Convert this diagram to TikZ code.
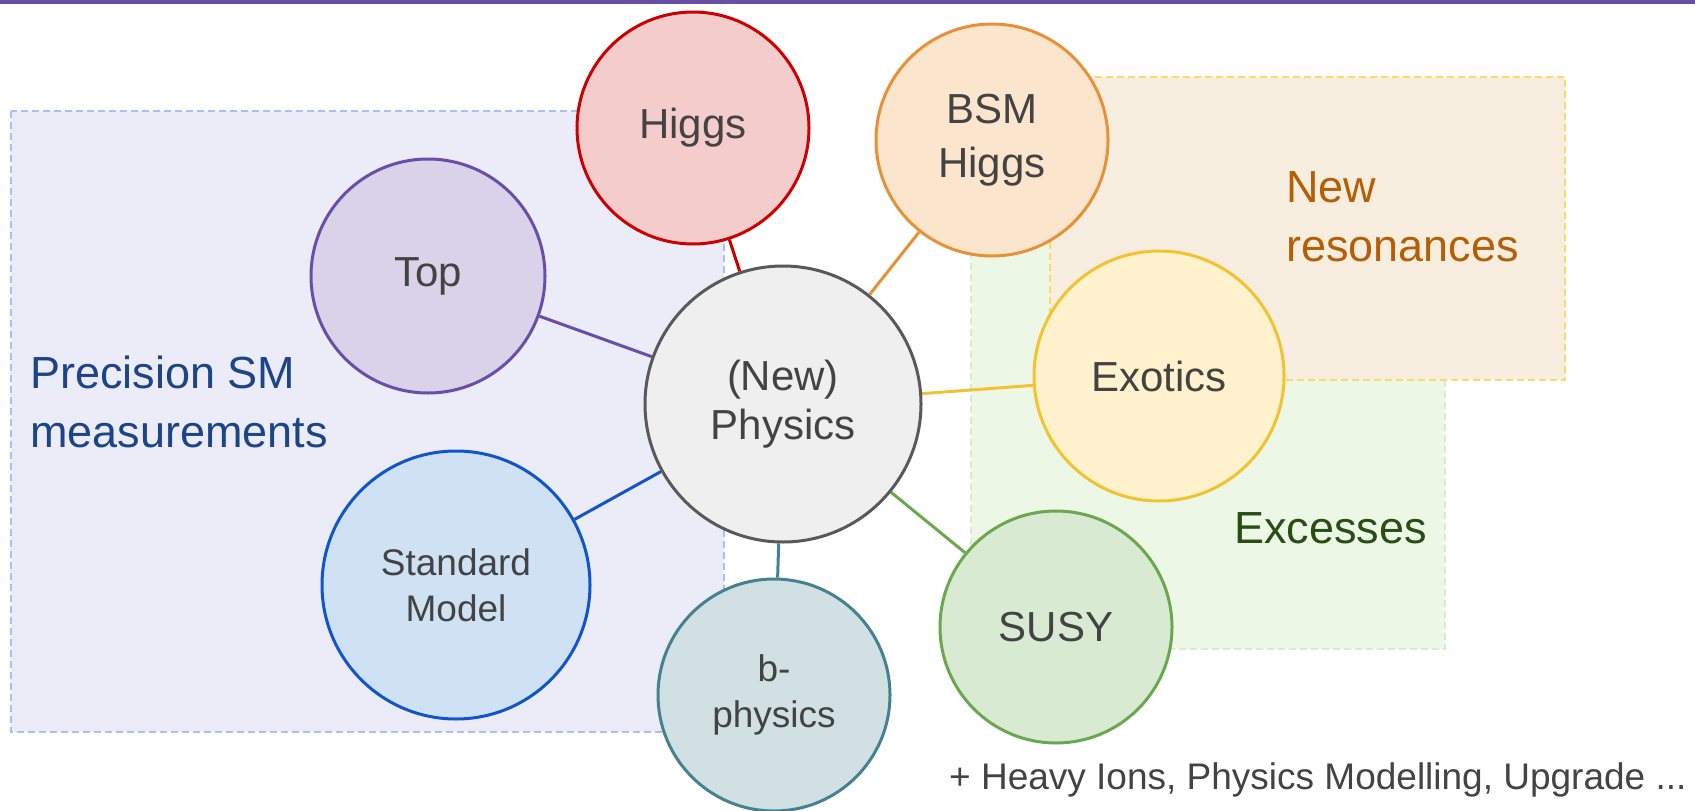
\documentclass[tikz,border=0pt]{standalone}
\usepackage{fontspec}
\setmainfont{Liberation Sans}
\definecolor{barc}{HTML}{674EA7}
\definecolor{txt}{HTML}{434343}
\definecolor{bluebd}{HTML}{A4C2F4}
\definecolor{bluebg}{HTML}{ECECF8}
\definecolor{greenbd}{HTML}{D9EAD3}
\definecolor{greenbg}{HTML}{EDF7E5}
\definecolor{orbd}{HTML}{FFD966}
\definecolor{orbg}{HTML}{F8EEDF}
\definecolor{higgsbg}{HTML}{F4CCCC}\definecolor{higgsbd}{HTML}{CC0000}
\definecolor{bsmbg}{HTML}{FCE5CD}\definecolor{bsmbd}{HTML}{E69138}
\definecolor{topbg}{HTML}{D9D2E9}\definecolor{topbd}{HTML}{674EA7}
\definecolor{physbg}{HTML}{EFEFEF}\definecolor{physbd}{HTML}{595959}
\definecolor{exobg}{HTML}{FFF2CC}\definecolor{exobd}{HTML}{F1C232}
\definecolor{smbg}{HTML}{CFE2F3}\definecolor{smbd}{HTML}{1155CC}
\definecolor{bbg}{HTML}{D0E0E3}\definecolor{bbd}{HTML}{45818E}
\definecolor{susybg}{HTML}{D9EAD3}\definecolor{susybd}{HTML}{6AA84F}
\definecolor{precc}{HTML}{1C4587}
\definecolor{resc}{HTML}{B45F06}
\definecolor{excc}{HTML}{274E13}
\pgfdeclarelayer{bg}
\pgfsetlayers{bg,main}
\begin{document}
\begin{tikzpicture}[x=1pt,y=-1pt,
  bub/.style={circle,draw,line width=3pt,inner sep=0pt,align=center,text=txt,font=\fontsize{42}{49}\selectfont},
  smalltxt/.style={font=\fontsize{37}{46}\selectfont},
  link/.style={line width=3pt},
  area/.style={dash pattern=on 7pt off 4pt, line width=1.5pt},
  boxlabel/.style={anchor=west,align=left,inner sep=0pt,font=\fontsize{45}{59}\selectfont}]
\useasboundingbox (0,0) rectangle (1695,811);
\fill[barc] (0,0) rectangle (1695,4);
% circles
\node[bub, minimum size=232pt, fill=higgsbg, draw=higgsbd] (higgs) at (693,128) {Higgs};
\node[bub, font=\fontsize{42}{54}\selectfont, minimum size=232pt, fill=bsmbg, draw=bsmbd] (bsm) at (992,140) {BSM\\Higgs};
\node[bub, minimum size=234pt, fill=topbg, draw=topbd] (top) at (428,276) {Top};
\node[bub, minimum size=276pt, fill=physbg, draw=physbd] (phys) at (783,404) {(New)\\Physics};
\node[bub, minimum size=250pt, fill=exobg, draw=exobd] (exo) at (1159,376) {Exotics};
\node[bub, smalltxt, minimum size=268pt, fill=smbg, draw=smbd] (sm) at (456,585) {Standard\\Model};
\node[bub, smalltxt, minimum size=232pt, fill=bbg, draw=bbd] (bphys) at (774,695) {b-\\physics};
\node[bub, minimum size=232pt, fill=susybg, draw=susybd] (susy) at (1056,627) {SUSY};
% labels
\node[boxlabel, text=precc] (prec) at (30,402) {Precision SM\\measurements};
\node[boxlabel, text=resc] (res) at (1286,217) {New\\resonances};
\node[boxlabel, text=excc] (exc) at (1234,528) {Excesses};
\node[anchor=west, inner sep=0pt, text=txt, smalltxt] (more) at (949,780) {+ Heavy Ions, Physics Modelling, Upgrade ...};
\begin{pgfonlayer}{bg}
\draw[area, draw=bluebd, fill=bluebg] (11,111) rectangle (724,732);
\draw[area, draw=greenbd, fill=greenbg] (971,230) rectangle (1445,649);
\draw[area, draw=orbd, fill=orbg] (1050,77) rectangle (1565,380);
\draw[link, draw=higgsbd] (phys) -- (higgs);
\draw[link, draw=bsmbd] (phys) -- (bsm);
\draw[link, draw=topbd] (phys) -- (top);
\draw[link, draw=exobd] (phys) -- (exo);
\draw[link, draw=smbd] (phys) -- (sm);
\draw[link, draw=bbd] (phys) -- (bphys);
\draw[link, draw=susybd] (phys) -- (susy);
\end{pgfonlayer}
\end{tikzpicture}
\end{document}
